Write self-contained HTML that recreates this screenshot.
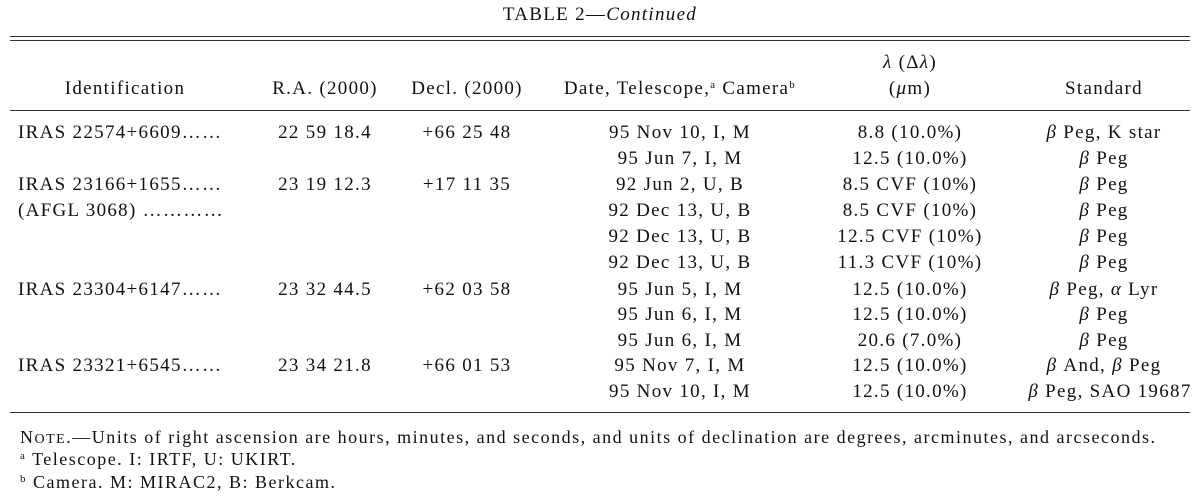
<!DOCTYPE html>
<html><head><meta charset="utf-8">
<style>
body{margin:0;background:#fff;}
#t{position:relative;width:1200px;height:498px;font-family:"Liberation Serif",serif;font-size:19px;letter-spacing:1.3px;color:#111;overflow:hidden}
#t div{position:absolute;white-space:nowrap;line-height:20px}
.c{transform:translateX(-50%)}
.rule{background:#333;height:1px;left:10px;width:1180px}
sup{font-size:11px;vertical-align:6px;line-height:0}
.sc{font-size:14px}
.n{font-size:18px;letter-spacing:1.5px}
</style></head><body>
<div id="t">
<div class="c" style="left:600px;top:5px">TABLE 2—<i>Continued</i></div>
<div class="rule" style="top:36px"></div>
<div class="rule" style="top:40px"></div>
<div class="c" style="left:125px;top:79px">Identification</div>
<div class="c" style="left:325px;top:79px">R.A. (2000)</div>
<div class="c" style="left:467px;top:79px">Decl. (2000)</div>
<div class="c" style="left:680px;top:79px">Date, Telescope,<sup>a</sup> Camera<sup>b</sup></div>
<div class="c" style="left:910px;top:53px"><i>λ</i> (Δ<i>λ</i>)</div>
<div class="c" style="left:910px;top:79px">(<i>μ</i>m)</div>
<div class="c" style="left:1104px;top:79px">Standard</div>
<div class="rule" style="top:110px"></div>

<div style="left:18px;top:123px">IRAS 22574+6609……</div>
<div class="c" style="left:325px;top:123px">22 59 18.4</div>
<div class="c" style="left:467px;top:123px">+66 25 48</div>
<div style="left:18px;top:175px">IRAS 23166+1655……</div>
<div style="left:18px;top:201px">(AFGL 3068) …………</div>
<div class="c" style="left:325px;top:175px">23 19 12.3</div>
<div class="c" style="left:467px;top:175px">+17 11 35</div>
<div style="left:18px;top:280px">IRAS 23304+6147……</div>
<div class="c" style="left:325px;top:280px">23 32 44.5</div>
<div class="c" style="left:467px;top:280px">+62 03 58</div>
<div style="left:18px;top:356px">IRAS 23321+6545……</div>
<div class="c" style="left:325px;top:356px">23 34 21.8</div>
<div class="c" style="left:467px;top:356px">+66 01 53</div>

<div class="c" style="left:680px;top:123px">95 Nov 10, I, M</div>
<div class="c" style="left:680px;top:149px">95 Jun 7, I, M</div>
<div class="c" style="left:680px;top:175px">92 Jun 2, U, B</div>
<div class="c" style="left:680px;top:201px">92 Dec 13, U, B</div>
<div class="c" style="left:680px;top:227px">92 Dec 13, U, B</div>
<div class="c" style="left:680px;top:253px">92 Dec 13, U, B</div>
<div class="c" style="left:680px;top:280px">95 Jun 5, I, M</div>
<div class="c" style="left:680px;top:305px">95 Jun 6, I, M</div>
<div class="c" style="left:680px;top:331px">95 Jun 6, I, M</div>
<div class="c" style="left:680px;top:356px">95 Nov 7, I, M</div>
<div class="c" style="left:680px;top:382px">95 Nov 10, I, M</div>

<div class="c" style="left:910px;top:123px">8.8 (10.0%)</div>
<div class="c" style="left:910px;top:149px">12.5 (10.0%)</div>
<div class="c" style="left:910px;top:175px">8.5 CVF (10%)</div>
<div class="c" style="left:910px;top:201px">8.5 CVF (10%)</div>
<div class="c" style="left:910px;top:227px">12.5 CVF (10%)</div>
<div class="c" style="left:910px;top:253px">11.3 CVF (10%)</div>
<div class="c" style="left:910px;top:280px">12.5 (10.0%)</div>
<div class="c" style="left:910px;top:305px">12.5 (10.0%)</div>
<div class="c" style="left:910px;top:331px">20.6 (7.0%)</div>
<div class="c" style="left:910px;top:356px">12.5 (10.0%)</div>
<div class="c" style="left:910px;top:382px">12.5 (10.0%)</div>

<div class="c" style="left:1104px;top:123px"><i>β</i> Peg, K star</div>
<div class="c" style="left:1104px;top:149px"><i>β</i> Peg</div>
<div class="c" style="left:1104px;top:175px"><i>β</i> Peg</div>
<div class="c" style="left:1104px;top:201px"><i>β</i> Peg</div>
<div class="c" style="left:1104px;top:227px"><i>β</i> Peg</div>
<div class="c" style="left:1104px;top:253px"><i>β</i> Peg</div>
<div class="c" style="left:1104px;top:280px"><i>β</i> Peg, <i>α</i> Lyr</div>
<div class="c" style="left:1104px;top:305px"><i>β</i> Peg</div>
<div class="c" style="left:1104px;top:331px"><i>β</i> Peg</div>
<div class="c" style="left:1104px;top:356px"><i>β</i> And, <i>β</i> Peg</div>
<div class="c" style="left:1110px;top:382px"><i>β</i> Peg, SAO 19687</div>

<div class="rule" style="top:412px"></div>
<div class="n" style="left:20px;top:427px">N<span class="sc">OTE</span>.—Units of right ascension are hours, minutes, and seconds, and units of declination are degrees, arcminutes, and arcseconds.</div>
<div class="n" style="left:20px;top:449px"><sup>a</sup> Telescope. I: IRTF, U: UKIRT.</div>
<div class="n" style="left:20px;top:472px"><sup>b</sup> Camera. M: MIRAC2, B: Berkcam.</div>
</div>
</body></html>
